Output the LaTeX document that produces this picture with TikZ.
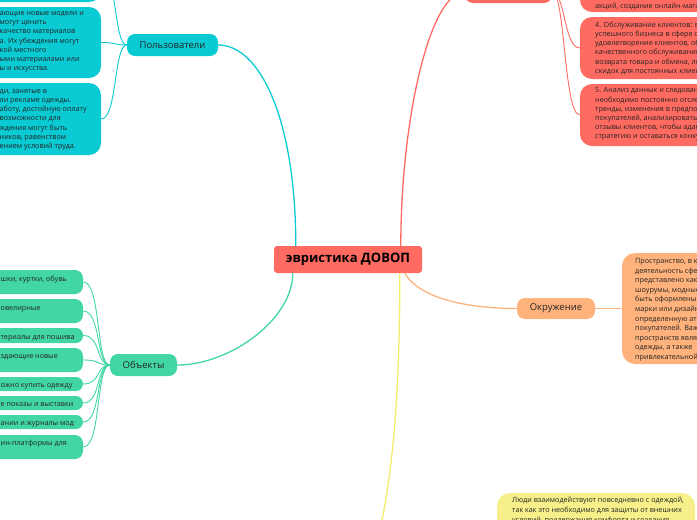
\documentclass[tikz,border=0pt]{standalone}
\usepackage{fontspec}
\setmainfont{Open Sans}
\usetikzlibrary{calc}
\definecolor{cteal}{RGB}{10,202,212}
\definecolor{cgreen}{RGB}{66,214,166}
\definecolor{cred}{RGB}{255,106,97}
\definecolor{corange}{RGB}{255,178,124}
\definecolor{cyellow}{RGB}{247,240,138}
\definecolor{cyline}{RGB}{245,236,110}
\definecolor{ctext}{RGB}{35,35,35}
\begin{document}
\begin{tikzpicture}[x=1pt,y=-1pt,
  rootbox/.style={fill=cred, rounded corners=3pt, inner sep=0pt, minimum width=148pt, minimum height=27pt, font=\fontsize{13}{15}\selectfont\bfseries, text=black},
  subbox/.style={fill=#1, rounded corners=8pt, inner sep=0pt, minimum height=22pt, font=\fontsize{9.5}{11}\selectfont, text=ctext},
  leafbox/.style={fill=#1, inner sep=0pt},
  leaftext/.style={font=\fontsize{7.2}{9.2}\selectfont, align=left, inner sep=0pt, text=ctext},
  mainline/.style={draw=#1, line width=1.3pt},
  leafline/.style={draw=#1, line width=0.9pt}
]
\useasboundingbox (0,0) rectangle (697,520);
\clip (0,0) rectangle (697,520);

% ---------- root ----------
\node[rootbox] (root) at (348,259.5) {эвристика ДОВОП};

% ---------- teal: Пользователи ----------
\node[subbox=cteal, minimum width=91pt] (users) at (172.5,45) {Пользователи};
\node[leafbox=cteal, rounded corners=12pt, minimum width=221pt, minimum height=62pt] (ua) at (-9.5,-29) {};
\node[leafbox=cteal, rounded corners=12pt, minimum width=221pt, minimum height=71pt] (ub) at (-9.5,42.5) {};
\node[leafbox=cteal, rounded corners=12pt, minimum width=221pt, minimum height=72pt] (uc) at (-9.5,119) {};
\node[leaftext, anchor=north west] (ubt) at (-0.5,11.3) {ающие новые модели и\\могут ценить\\качество материалов\\а. Их убеждения могут\\кой местного\\ыми материалами или\\ы и искусства.};
\node[leaftext, anchor=north west] (uct) at (-0.5,89.2) {ди, занятые в\\ли рекламе одежды.\\аботу, достойную оплату\\возможности для\\ждения могут быть\\ников, равенством\\ением условий труда.};

\draw[mainline=cteal] ($(root.north west)+(22,0)$) .. controls +(0,-126) and +(42,0) .. (users.east);
\foreach \l in {ua,ub,uc}
  \draw[leafline=cteal] (users.west) .. controls +(-13,0) and +(16,0) .. (\l.east);

% ---------- green: Объекты ----------
\node[subbox=cgreen, minimum width=67pt] (objs) at (143.5,365) {Объекты};
\node[leafbox=cgreen, rounded corners=8pt, minimum width=183pt, minimum height=24pt] (o1) at (-8.5,282) {};
\node[leafbox=cgreen, rounded corners=8pt, minimum width=183pt, minimum height=24pt] (o2) at (-8.5,311) {};
\node[leafbox=cgreen, rounded corners=7pt, minimum width=183pt, minimum height=15pt] (o3) at (-8.5,335.5) {};
\node[leafbox=cgreen, rounded corners=8pt, minimum width=183pt, minimum height=24pt] (o4) at (-8.5,360) {};
\node[leafbox=cgreen, rounded corners=7pt, minimum width=183pt, minimum height=14pt] (o5) at (-8.5,384) {};
\node[leafbox=cgreen, rounded corners=7pt, minimum width=183pt, minimum height=14pt] (o6) at (-8.5,403) {};
\node[leafbox=cgreen, rounded corners=7pt, minimum width=183pt, minimum height=14pt] (o7) at (-8.5,422) {};
\node[leafbox=cgreen, rounded corners=8pt, minimum width=183pt, minimum height=24pt] (o8) at (-8.5,447) {};
\node[leaftext, anchor=base west] (o1t) at (0.5,281.5) {шки, куртки, обувь};
\node[leaftext, anchor=base west] (o2t) at (0.5,310.5) {овелирные};
\node[leaftext, anchor=base west] (o3t) at (0.5,339) {териалы для пошива};
\node[leaftext, anchor=base west] (o4t) at (0.5,358.5) {здающие новые};
\node[leaftext, anchor=base west] (o5t) at (0.5,387) {ожно купить одежду};
\node[leaftext, anchor=base west] (o6t) at (0.5,406) {е показы и выставки};
\node[leaftext, anchor=base west] (o7t) at (0.5,425) {ании и журналы мод};
\node[leaftext, anchor=base west] (o8t) at (0.5,445.5) {ин-платформы для};

\draw[mainline=cgreen] ($(root.south west)+(19,0)$) .. controls +(0,46) and +(53,0) .. (objs.east);
\foreach \l in {o1,o2,o3,o4,o5,o6,o7,o8}
  \draw[leafline=cgreen] (objs.west) .. controls +(-14,0) and +(18,0) .. (\l.east);

% ---------- red ----------
\node[subbox=cred, minimum width=87pt] (redm) at (508.5,-8) {};
\node[leafbox=cred, rounded corners=12pt, minimum width=220pt, minimum height=62pt] (r3) at (690,-19) {};
\node[leafbox=cred, rounded corners=12pt, minimum width=220pt, minimum height=62pt] (r4) at (690,48) {};
\node[leafbox=cred, rounded corners=12pt, minimum width=220pt, minimum height=62pt] (r5) at (690,115) {};
\node[leaftext, anchor=base west] (r3t) at (595,8) {акций, создание онлайн-магазинов};
\node[leaftext, anchor=north west] (r4t) at (595,21.5) {4. Обслуживание клиентов: важной\\успешного бизнеса в сфере одежды\\удовлетворение клиентов, обеспечение\\качественного обслуживания,\\возврата товара и обмена, лояльности\\скидок для постоянных клиентов.};
\node[leaftext, anchor=north west] (r5t) at (595,87.5) {5. Анализ данных и следование\\необходимо постоянно отслеживать\\тренды, изменения в предпочтениях\\покупателей, анализировать продажи\\отзывы клиентов, чтобы адаптировать\\стратегию и оставаться конкурентоспособными.};

\draw[mainline=cred] ($(root.north west)+(127,0)$) .. controls +(0,-126) and +(-35,0) .. (redm.west);
\foreach \l in {r3,r4,r5}
  \draw[leafline=cred] (redm.east) .. controls +(13,0) and +(-16,0) .. (\l.west);

% ---------- orange: Окружение ----------
\node[subbox=corange, minimum width=78pt, minimum height=21pt] (env) at (556,308.5) {Окружение};
\node[leafbox=corange, rounded corners=13pt, minimum width=200pt, minimum height=111pt] (el) at (722,308.5) {};
\node[leaftext, font=\fontsize{7.2}{9.6}\selectfont, anchor=north west] (elt) at (635,258.2) {Пространство, в котором\\деятельность сферы\\представлено как\\шоурумы, модные\\быть оформлены в\\марки или дизайнера\\определенную атмосферу\\покупателей. Важно\\пространств является\\одежды, а также\\привлекательной};

\draw[mainline=corange] ($(root.south west)+(131,0)$) .. controls +(15,26) and +(-47,0) .. (env.west);
\draw[leafline=corange] (env.east) -- (el.west);

% ---------- yellow ----------
\coordinate (ymain) at (370,570);
\node[leafbox=cyellow, rounded corners=13pt, minimum width=198pt, minimum height=107pt] (yl) at (596,546.5) {};
\node[leaftext, font=\fontsize{7.2}{9.8}\selectfont, anchor=north west] (ylt) at (512,497.3) {Люди взаимодействуют повседневно с одеждой,\\так как это необходимо для защиты от внешних\\условий, поддержания комфорта и создания};

\draw[mainline=cyline] ($(root.south west)+(126,0)$) .. controls +(0,146) and +(20,-70) .. (ymain);

\end{tikzpicture}
\end{document}
